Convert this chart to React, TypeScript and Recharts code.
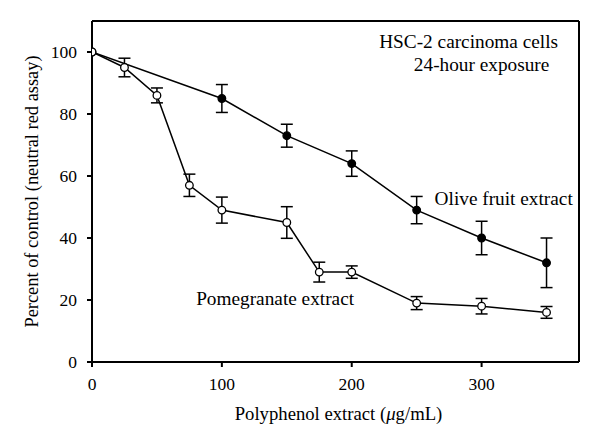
import React from 'react'

import {
  ComposedChart,
  ErrorBar,
  Label,
  Line,
  ReferenceDot,
  ReferenceLine,
  XAxis,
  YAxis,
} from 'recharts'

// Olive fruit extract (filled circles)
const oliveDoses = [0, 100, 150, 200, 250, 300, 350]
const oliveValues = [100, 85, 73, 64, 49, 40, 32]
const oliveErrors = [null, 4.5, 3.7, 4.1, 4.4, 5.4, 8]

// Pomegranate extract (open circles)
const pomDoses = [0, 25, 50, 75, 100, 150, 175, 200, 250, 300, 350]
const pomValues = [100, 95, 86, 57, 49, 45, 29, 29, 19, 18, 16]
const pomErrors = [null, 3, 2.4, 3.6, 4.2, 5.1, 3.2, 2, 2.1, 2.5, 1.9]

const xTicks = [0, 100, 200, 300]
const yTicks = [0, 20, 40, 60, 80, 100]

const FONT = '"Liberation Serif", "DejaVu Serif", serif'

const oliveData = oliveDoses.map((d, i) => ({
  dose: d,
  value: oliveValues[i],
  err: oliveErrors[i],
}))

const pomData = pomDoses.map((d, i) => ({
  dose: d,
  value: pomValues[i],
  err: pomErrors[i],
}))

// x-axis title with italic mu
const XTitle = ({ viewBox }: any) => {
  const cx = viewBox.x + viewBox.width / 2 + 3
  return (
    <text
      x={cx}
      y={viewBox.y + 58}
      textAnchor="middle"
      fontFamily={FONT}
      fontSize={18.7}
      fill="#000"
    >
      Polyphenol extract (<tspan fontStyle="italic">μ</tspan>g/mL)
    </text>
  )
}

const noteStyle = { fontFamily: FONT, fontSize: 19.3, fill: '#000' }
const tickStyle = { fill: '#000', fontSize: 17.5, fontFamily: FONT }

export default function App() {
  return (
    <div style={{ position: 'absolute', left: 0, top: 0, background: '#fff' }}>
      <ComposedChart
        width={600}
        height={446}
        margin={{ top: 21, right: 21, left: 0, bottom: 0 }}
      >
        <XAxis
          type="number"
          dataKey="dose"
          domain={[0, 375]}
          ticks={xTicks}
          allowDataOverflow
          tickSize={5}
          tickMargin={11}
          height={84}
          stroke="#000"
          strokeWidth={2}
          tick={tickStyle}
          label={<XTitle />}
        />
        <YAxis
          type="number"
          dataKey="value"
          domain={[0, 110]}
          ticks={yTicks}
          allowDataOverflow
          tickSize={5}
          tickMargin={10}
          width={92}
          stroke="#000"
          strokeWidth={2}
          tick={tickStyle}
        >
          <Label
            value="Percent of  control (neutral red assay)"
            angle={-90}
            position="insideLeft"
            offset={31}
            style={{ fontFamily: FONT, fontSize: 18.4, fill: '#000', textAnchor: 'middle' }}
          />
        </YAxis>

        {/* frame top / right */}
        <ReferenceLine y={110} stroke="#000" strokeWidth={2} />
        <ReferenceLine x={375} stroke="#000" strokeWidth={2} />

        <Line
          data={oliveData}
          dataKey="value"
          stroke="#000"
          strokeWidth={1.5}
          isAnimationActive={false}
          dot={{ r: 3.8, fill: '#000', stroke: '#000', strokeWidth: 1.3 }}
        >
          <ErrorBar
            dataKey="err"
            width={6}
            stroke="#000"
            strokeWidth={1.5}
            direction="y"
          />
        </Line>
        <Line
          data={pomData}
          dataKey="value"
          stroke="#000"
          strokeWidth={1.5}
          isAnimationActive={false}
          dot={{ r: 3.8, fill: '#fff', stroke: '#000', strokeWidth: 1.3 }}
        >
          <ErrorBar
            dataKey="err"
            width={6}
            stroke="#000"
            strokeWidth={1.5}
            direction="y"
          />
        </Line>

        {/* annotations */}
        <ReferenceDot x={290} y={103.4} r={0} ifOverflow="visible">
          <Label value="HSC-2 carcinoma cells" position="center" style={noteStyle} />
        </ReferenceDot>
        <ReferenceDot x={300} y={96} r={0} ifOverflow="visible">
          <Label value="24-hour exposure" position="center" style={noteStyle} />
        </ReferenceDot>
        <ReferenceDot x={317} y={53} r={0} ifOverflow="visible">
          <Label value="Olive fruit extract" position="center" style={noteStyle} />
        </ReferenceDot>
        <ReferenceDot x={141} y={20.5} r={0} ifOverflow="visible">
          <Label value="Pomegranate extract" position="center" style={noteStyle} />
        </ReferenceDot>
      </ComposedChart>
    </div>
  )
}
